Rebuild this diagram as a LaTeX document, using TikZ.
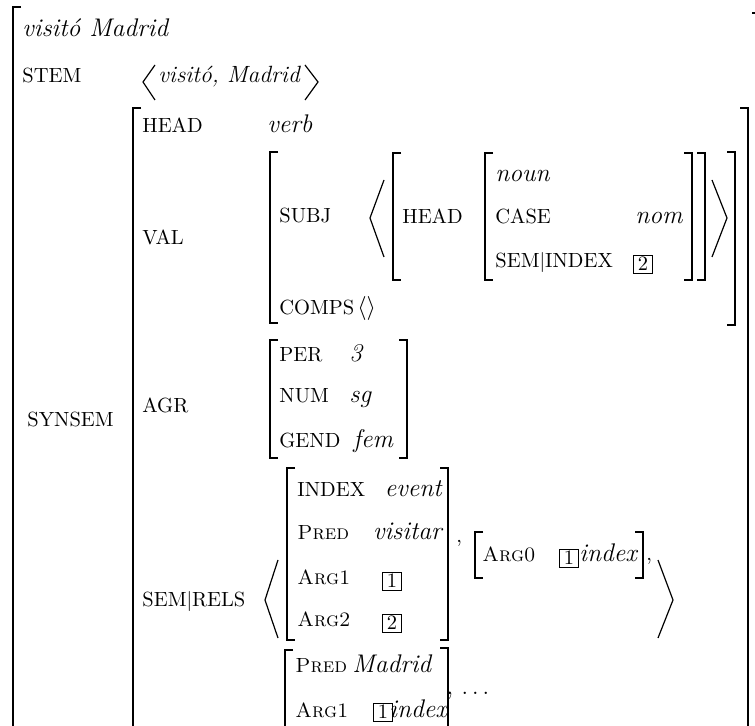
\documentclass[tikz,border=0pt]{standalone}
\usepackage{fontspec}
\usetikzlibrary{positioning}

\begin{document}
\begin{tikzpicture}[x=0.5pt,y=-0.5pt,
  feat/.style={inner sep=0pt,anchor=base west,font=\fontsize{10.25}{12}\selectfont},
  val/.style={inner sep=0pt,anchor=base west,font=\fontsize{12.75}{15}\selectfont\itshape},
  tag/.style={draw,line width=0.4pt,inner sep=0pt,minimum width=9.5pt,minimum height=9pt,font=\fontsize{10.25}{12}\selectfont},
  brk/.style={line width=0.9pt},
  ang/.style={line width=0.6pt}]
\clip (0,0) rectangle (755,726);
% left brackets
\foreach \x/\t/\b in {13/7/740, 133/108/740, 270/152/323, 393/153/280, 485/153/280,
  270/340/458, 287/468/640, 475/532/578, 285/650/740}
  \draw[brk] (\x+8,\t) -| (\x,\b) -- (\x+8,\b);
% right brackets
\foreach \x/\t/\b in {760/13/740, 748/108/740, 735/152/325, 692/153/280, 705/153/280,
  407/340/458, 448/468/640, 643/532/578, 448/648/740}
  \draw[brk] (\x-8,\t) -| (\x,\b) -- (\x-8,\b);
% angle brackets
\draw[ang] (155,65) -- (143,82) -- (155,100);
\draw[ang] (305,65) -- (318,82) -- (305,100);
\draw[ang] (384,180) -- (370,218) -- (384,257);
\draw[ang] (712,180) -- (727,218) -- (712,257);
\draw[ang] (278,560) -- (265,600) -- (278,638);
\draw[ang] (658,560) -- (673,600) -- (658,638);

\node[val] (word) at (22,37) {visitó Madrid};
\node[feat] (stem) at (22,83) {STEM};
\node[val,font=\fontsize{11.75}{14}\selectfont\itshape] (stemv) at (158,83) {visitó, Madrid};
\node[feat] (synsem) at (27,427) {SYNSEM};

\node[feat] (head) at (142,133) {HEAD};
\node[val] (verb) at (267,133) {verb};
\node[feat] (valf) at (142,245) {VAL};
\node[feat] (subj) at (279,223) {SUBJ};
\node[feat] (comps) at (279,315) {COMPS};
\node[feat,font=\fontsize{12.75}{15}\selectfont] (empty) at (357,315) {$\langle\rangle$};
\node[feat] (shead) at (402,224) {HEAD};
\node[val] (noun) at (495,182) {noun};
\node[feat] (case) at (495,224) {CASE};
\node[val] (nom) at (635,224) {nom};
\node[feat] (semidx) at (495,268) {SEM$\vert$INDEX};
\node[tag] (tagb) at (643,264) {2};

\node[feat] (agr) at (142,413) {AGR};
\node[feat] (per) at (279,362) {PER};
\node[val] (perv) at (349,362) {3};
\node[feat] (num) at (279,403) {NUM};
\node[val] (numv) at (349,403) {sg};
\node[feat] (gend) at (279,448) {GEND};
\node[val] (gendv) at (353,448) {fem};

\node[feat] (semrels) at (142,607) {SEM$\vert$RELS};
\node[feat] (index) at (297,497) {INDEX};
\node[val,anchor=base east] (event) at (442,497) {event};
\node[feat] (pred) at (297,540) {\textsc{Pred}};
\node[val,anchor=base east] (visitar) at (442,540) {visitar};
\node[feat] (arga) at (297,585) {\textsc{Arg1}};
\node[tag] (taga) at (392,581) {1};
\node[feat] (argb) at (297,627) {\textsc{Arg2}};
\node[tag] (tagc) at (392,623) {2};
\node[feat] (cma) at (456,543) {,};
\node[feat] (argz) at (482,562) {\textsc{Arg0}};
\node[tag] (tagd) at (569,558) {1};
\node[val] (idxa) at (579,562) {index};
\node[feat] (cmb) at (646,561) {,};
\node[feat] (predm) at (295,673) {\textsc{Pred}};
\node[val] (madrid) at (352,673) {Madrid};
\node[feat] (argc) at (295,718) {\textsc{Arg1}};
\node[tag] (tage) at (383,712) {1};
\node[val] (idxb) at (389,718) {index};
\node[feat,font=\fontsize{12.75}{15}\selectfont] (cmc) at (446,694) {, $\ldots$};
\end{tikzpicture}
\end{document}
